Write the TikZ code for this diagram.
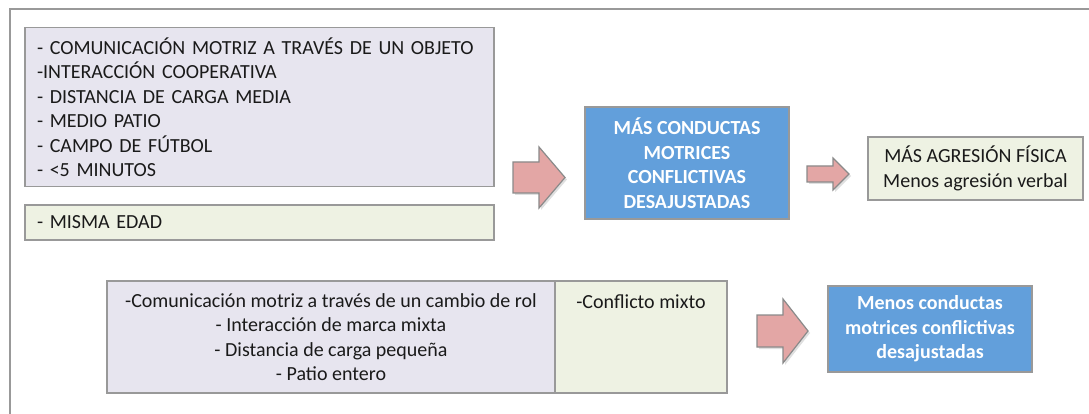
\documentclass[tikz,border=0pt]{standalone}
\usepackage{fontspec}
\setmainfont{Carlito}
\usetikzlibrary{shadows}
\definecolor{lavbox}{HTML}{E7E5EF}
\definecolor{greenbox}{HTML}{EEF2E3}
\definecolor{bluebox}{HTML}{629FDB}
\definecolor{pinkarrow}{HTML}{E3A6A5}
\definecolor{boxline}{HTML}{999999}
\definecolor{textink}{HTML}{1A1A1A}

\begin{document}
\begin{tikzpicture}[x=1pt, y=-1pt,
                    every node/.style={textink, font=\fontsize{20}{24.5}\selectfont},
                    lavstyle/.style={draw=boxline, line width=1.5pt, fill=lavbox, inner sep=0pt},
                    greenstyle/.style={draw=boxline, line width=1.5pt, fill=greenbox, inner sep=0pt},
                    bluestyle/.style={draw=boxline, line width=1.5pt, fill=bluebox, inner sep=0pt,
                                      text=white, font=\fontsize{20}{24.5}\selectfont\bfseries},
                    blockarrow/.style={draw=boxline!90!black, line width=1.2pt, fill=pinkarrow,
                                       line join=miter,
                                       drop shadow={shadow xshift=2pt, shadow yshift=-2pt, opacity=0.25}}]

  \useasboundingbox (0,0) rectangle (1089,414);

  %% marco exterior
  \draw[boxline, line width=2pt] (1089,9.5) -- (9.5,9.5) -- (9.5,414);

  %% primera fila: condiciones
  \node[lavstyle, minimum width=469, minimum height=159, text width=445, align=left]
    (cond) at (259.5,107)
    {- COMUNICACIÓN MOTRIZ A TRAVÉS DE UN OBJETO\\
     -INTERACCIÓN COOPERATIVA\\
     - DISTANCIA DE CARGA MEDIA\\
     - MEDIO PATIO\\
     - CAMPO DE FÚTBOL\\
     - <5 MINUTOS};
  \node[greenstyle, minimum width=469, minimum height=35, text width=445, align=left]
    (edad) at (259.5,222.5) {- MISMA EDAD};

  %% resultados de la primera fila
  \node[bluestyle, minimum width=204, minimum height=112, align=center]
    (mas) at (687,163)
    {MÁS CONDUCTAS\\ MOTRICES\\ CONFLICTIVAS\\ DESAJUSTADAS};
  \node[greenstyle, minimum width=215, minimum height=63, align=center]
    (agresion) at (975.5,168.5)
    {MÁS AGRESIÓN FÍSICA\\ Menos agresión verbal};

  %% segunda fila: condiciones
  \node[lavstyle, minimum width=448, minimum height=112, align=center]
    (rol) at (331,337)
    {-Comunicación motriz a través de un cambio de rol\\
     - Interacción de marca mixta\\
     - Distancia de carga pequeña\\
     - Patio entero};
  \node[greenstyle, minimum width=172, minimum height=112,
        label={[anchor=north, inner sep=0pt, yshift=-14pt]north:{-Conflicto mixto}}]
    (mixto) at (641,337) {};

  %% resultado de la segunda fila
  \node[bluestyle, minimum width=204, minimum height=86, align=center]
    (menos) at (930,329)
    {Menos conductas\\ motrices conflictivas\\ desajustadas};

  %% flechas de bloque
  \draw[blockarrow] (513,162) -- (539,162) -- (539,147) -- (565,177.5)
    -- (539,208) -- (539,193) -- (513,193) -- cycle;
  \draw[blockarrow] (807,166) -- (833,166) -- (833,158) -- (849,174)
    -- (833,190) -- (833,182) -- (807,182) -- cycle;
  \draw[blockarrow] (757,315) -- (783,315) -- (783,299) -- (808,331)
    -- (783,363) -- (783,347) -- (757,347) -- cycle;

\end{tikzpicture}
\end{document}
